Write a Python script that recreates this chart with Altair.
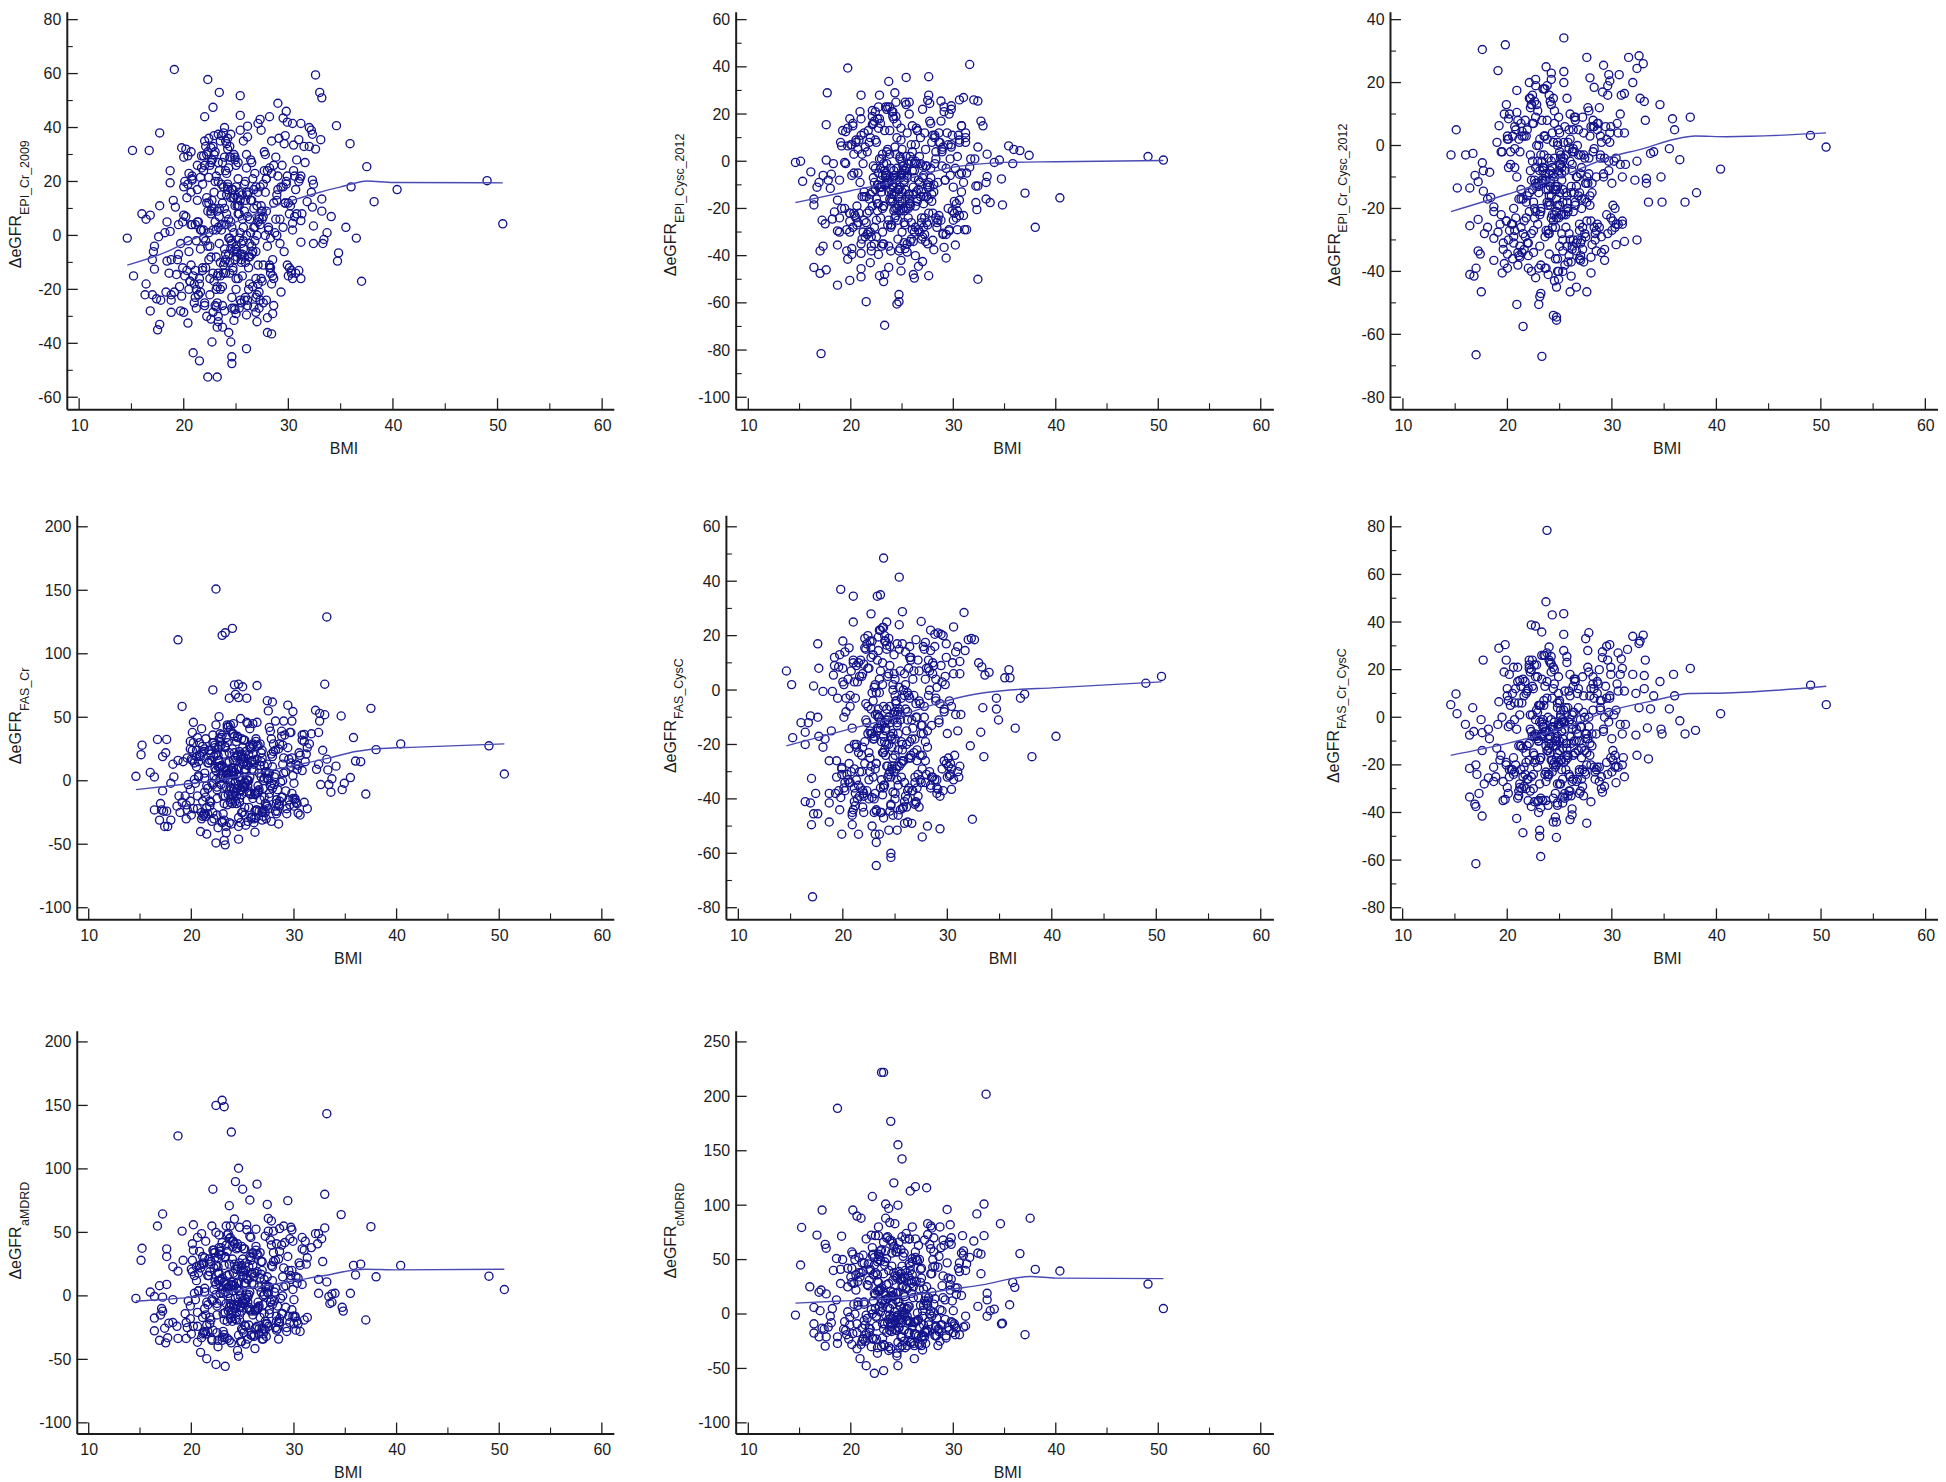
import altair as alt
import pandas as pd

CORE_BMI = [
22.4,23.1,24.5,25.2,26.3,27.1,24.0,21.6,23.7,25.8,28.2,29.3,20.5,22.9,24.8,26.7,23.4,25.5,27.6,21.2,
24.2,25.0,22.1,23.9,26.0,28.7,30.1,20.9,24.6,25.4,22.7,27.3,23.2,26.5,21.9,24.3,29.0,25.9,23.6,28.0,
20.3,22.5,24.9,26.9,23.0,27.8,25.1,21.4,24.4,29.6,22.2,25.7,23.8,26.2,30.6,24.1,21.0,27.4,23.3,25.3,
28.5,19.7,24.7,22.8,26.6,25.6,23.5,27.0,21.7,29.8,24.0,25.2,22.6,28.3,20.7,26.1,23.9,24.5,27.7,30.3,
21.3,25.0,23.4,26.4,22.3,24.8,28.9,25.5,19.9,23.7,27.2,24.2,31.0,22.0,26.8,25.8,23.1,20.1,28.6,24.6,
25.1,22.9,27.5,21.8,24.3,29.2,23.6,26.3,20.6,25.4,28.1,22.4,24.9,30.8,23.3,26.0,21.1,27.9,24.1,25.7,
22.7,19.5,24.4,26.7,23.8,28.4,25.3,21.5,27.1,29.5,23.0,24.7,20.2,25.9,22.2,26.5,30.0,23.5,28.8,24.0,
25.6,21.9,27.3,23.2,24.5,20.8,26.2,29.9,22.6,25.0,28.2,23.9,31.3,24.8,21.3,26.9,22.5,27.6,25.2,23.4,
23.6,24.3,25.1,24.7,26.0,22.8,25.5,24.1,23.2,26.4,27.2,24.9,25.8,22.4,23.9,26.7,25.3,24.5,27.6,23.4,
28.1,21.8,24.2,25.0,22.6,26.2,23.7,27.0,24.8,25.6,21.3,28.6,23.1,26.9,24.4,25.2,22.1,27.4,23.8,29.2,
24.6,25.9,20.7,26.5,23.3,28.3,25.4,22.9,24.0,27.8,21.6,26.1,23.5,25.7,29.7,24.3,22.3,27.1,25.1,23.0,
26.6,24.7,28.9,21.1,25.3,23.6,26.3,24.9,22.5,27.5,30.2,23.9,25.0,26.8,20.4,24.4,27.9,22.7,25.6,24.1,
20.2,21.4,22.6,28.4,29.6,30.5,21.0,27.8,23.1,26.4,20.8,22.0,29.1,30.0,24.4,27.2,21.7,25.8,28.8,23.5,
19.6,22.3,26.9,29.4,31.2,24.8,20.5,27.5,23.8,25.2,21.2,28.0,22.9,30.3,26.1,20.0,24.1,29.8,27.0,22.4,
19.9,25.5,28.6,21.5,23.3,26.6,30.8,24.6,20.7,27.7,22.1,29.3,25.0,21.8,28.2,23.6,26.3,31.0,20.3,24.9,
27.3,22.7,29.0,21.1,25.7,30.6,23.0,28.5,26.8,24.2,20.6,27.9,22.5,29.5,25.4,21.3,30.1,23.9,26.0,28.9,
19.4,24.5,27.1,21.9,29.9,22.8,25.9,30.4,23.2,26.5,20.1,28.3,24.0,21.6,27.4,25.3,29.7,22.2,26.2,23.7]

P1_CORE = [
12,-8,5,21,-3,16,-14,2,27,9,-11,18,-6,-17,14,3,24,-9,7,-2,
19,-5,-12,10,25,1,8,-15,17,-7,28,4,-19,13,-1,6,22,-10,15,-4,
-13,26,11,-16,20,0,-8,5,29,-6,12,-2,18,-12,7,23,-18,9,3,16,
-9,-3,14,-14,21,6,-20,11,2,19,-7,27,8,-1,-11,15,4,-5,24,-13,
17,-16,10,1,-4,30,13,-10,5,-19,7,18,20,26,-2,-8,22,-15,12,3,
-6,16,9,-12,25,-3,19,6,-17,13,2,-9,28,8,-14,0,4,21,15,-5,
10,-7,-1,17,-11,23,11,-18,5,3,31,-13,7,20,14,-4,12,-10,6,24,
-15,2,18,9,-2,4,16,22,-8,26,-12,29,8,1,13,-6,-16,19,11,-3,
4,-7,11,-12,16,2,-3,8,-15,13,6,-9,19,1,-5,10,-1,14,-11,7,
3,-13,17,-4,9,-8,12,0,-6,15,5,-16,2,18,-10,8,-2,11,-14,6,
-3,13,4,-7,20,-12,1,10,-9,16,-5,7,-15,3,12,-1,9,-11,14,5,
-6,17,0,-13,8,2,-8,15,-4,6,11,-10,18,3,-2,-14,9,13,-7,4,
32,-22,27,-18,34,24,-25,30,-20,28,21,-26,36,-15,33,-21,25,-24,29,35,
-19,31,-23,26,22,-27,23,-17,38,-16,-20,24,30,-14,-24,18,34,20,-22,36,
-12,-25,26,-16,27,-19,28,-23,16,31,33,-21,-20,19,25,37,-18,-13,14,29,
-24,28,17,-23,35,22,-26,-15,23,32,-17,21,-22,18,39,26,-12,-28,30,15,
-9,29,-18,24,-11,33,-23,13,-25,27,20,-14,35,-21,-16,-27,12,30,-20,-26]
P2_CORE = [
-12,3,-20,-6,7,-15,-27,4,-9,-18,10,-3,-24,-11,1,-30,-7,12,-16,-1,
-21,5,-13,-28,-4,8,-17,-9,-25,2,-10,-2,-19,13,-14,-6,-31,0,-8,-22,
-5,-16,9,-26,-11,-3,-20,6,-13,-29,-7,-18,3,-1,-23,-10,11,-15,-4,-27,
-9,14,-19,1,-12,-24,-6,-2,-30,7,-16,-8,-21,4,-26,-14,-3,10,-11,-18,
-25,-5,-10,-1,-28,-17,5,-7,-22,-13,12,-4,-9,-32,-15,2,-20,-6,8,-12,
-2,-24,-11,-16,6,-8,-27,0,-19,-3,-13,9,-21,-5,-10,-29,3,-17,-7,-14,
-18,-1,-23,-9,13,-26,-4,-15,-6,-20,1,-12,-28,7,-2,-16,-11,4,-25,-8,
-14,-30,5,-19,-3,-22,-7,11,-10,-17,-1,-27,-5,2,-13,-24,8,-9,-21,-6,
-9,-20,-2,-15,4,-11,-6,-17,-1,-13,-24,-7,-19,-3,-12,2,-16,-8,-22,-5,
-10,-21,-14,0,-18,-4,-25,-7,-11,-1,-15,-23,-6,-13,3,-9,-19,-2,-16,-8,
-12,-26,-5,-17,-10,1,-20,-3,-14,-7,-22,-11,-1,-16,-6,-24,-9,-18,-4,-13,
-8,-21,-2,-15,-12,5,-19,-6,-25,-10,-3,-17,-13,-1,-23,-7,-14,-5,-20,-11,
15,-32,18,-28,20,11,-35,16,-30,14,9,-36,21,-25,19,-31,13,-34,17,22,
-29,17,-33,12,10,-37,8,-27,23,-26,-30,11,16,-24,-34,7,19,6,-32,21,
-22,-35,12,-26,13,-29,15,-33,5,17,19,-31,-30,8,11,23,-28,-23,3,14,
-34,14,6,-33,20,9,-36,-25,10,18,-27,8,-32,7,24,12,-22,-38,15,4,
-20,16,-28,10,-21,18,-33,2,-35,13,7,-24,21,-31,-26,-37,1,16,-30,-36]
P3_CORE = [
-14,2,-22,-7,5,-17,-28,3,-11,-20,8,-4,-25,-12,0,-30,-8,6,-18,-2,
-23,4,-15,-27,-5,7,-19,-10,-26,1,-12,-3,-21,9,-16,-7,-29,-1,-9,-24,
-6,-18,5,-27,-13,-4,-22,3,-14,-28,-8,-20,2,-2,-25,-11,8,-17,-5,-30,
-10,10,-21,0,-13,-26,-7,-3,-29,4,-18,-9,-23,6,-27,-15,-4,7,-12,-20,
-26,-6,-11,-2,-28,-19,3,-8,-24,-14,9,-5,-10,-31,-16,1,-22,-7,5,-13,
-3,-25,-12,-18,4,-9,-29,-1,-20,-4,-15,7,-23,-6,-11,-30,2,-19,-8,-16,
-21,-2,-24,-10,8,-28,-5,-17,-7,-22,0,-14,-27,5,-3,-18,-12,3,-26,-9,
-15,-31,4,-20,-4,-23,-8,6,-11,-19,-2,-28,-6,1,-14,-25,7,-10,-22,-7,
-11,-22,-4,-17,2,-13,-8,-19,-3,-15,-26,-9,-21,-5,-14,0,-18,-10,-24,-7,
-12,-23,-16,-2,-20,-6,-27,-9,-13,-3,-17,-25,-8,-15,1,-11,-21,-4,-18,-10,
-14,-28,-7,-19,-12,-1,-22,-5,-16,-9,-24,-13,-3,-18,-8,-26,-11,-20,-6,-15,
-10,-23,-4,-17,-14,3,-21,-8,-27,-12,-5,-19,-15,-3,-25,-9,-16,-7,-22,-13,
10,-34,14,-30,16,7,-38,11,-32,9,5,-39,17,-27,15,-33,8,-37,12,18,
-31,13,-36,6,4,-40,3,-29,19,-28,-32,6,11,-26,-37,2,14,1,-35,16,
-24,-38,7,-28,8,-31,10,-36,-1,12,15,-33,-32,3,6,18,-30,-25,-2,9,
-37,9,1,-35,15,4,-39,-27,5,13,-29,3,-34,2,20,7,-24,-41,10,-3,
-22,11,-30,5,-23,13,-35,-4,-38,8,2,-26,16,-33,-28,-40,-5,12,-32,-39]
P4_CORE = [
8,-12,20,-5,31,2,-18,14,-8,26,5,-22,11,-3,17,-15,34,0,-10,23,
-6,13,-25,7,28,-1,-14,19,3,-9,33,-20,10,-4,24,-16,6,15,-11,29,
1,-7,21,-24,12,-2,32,-13,9,-19,4,27,-5,16,-27,-8,22,2,-12,18,
25,-3,-17,11,6,-21,30,-6,14,-10,8,-1,20,-26,3,13,-15,35,-4,9,
-9,17,5,-23,26,0,-13,12,-7,22,-18,7,31,-2,15,-11,4,24,-16,10,
-5,28,1,-20,18,-8,6,33,-12,13,-3,21,-25,8,2,-14,27,-6,16,-10,
11,-19,5,29,-1,-7,23,-4,12,-15,36,3,-22,9,19,-9,-2,14,-13,25,
0,-17,7,21,-6,30,-11,4,16,-3,-24,10,26,-8,2,18,-14,6,32,-5,
5,-9,14,-14,21,2,-4,10,-18,17,7,-11,25,1,-6,12,-2,19,-13,8,
3,-16,22,-5,11,-10,15,0,-7,20,6,-20,2,24,-12,9,-3,13,-17,7,
-4,16,4,-8,27,-15,1,12,-11,21,-6,8,-19,3,14,-1,10,-13,18,5,
-7,23,0,-16,9,2,-10,19,-5,6,13,-12,26,3,-2,-18,11,16,-8,4,
30,-28,25,-24,38,22,-30,33,-26,27,20,-32,36,-20,31,-25,24,-29,35,42,
-23,28,-31,26,21,-33,19,-22,40,-21,-27,23,34,-18,-30,17,37,18,-28,44,
-16,-32,29,-21,26,-24,32,-29,15,39,30,-26,-25,16,24,43,-23,-17,14,33,
-30,27,18,-28,41,20,-33,-19,22,35,-22,19,-27,17,46,25,-15,-34,29,13,
-12,34,-23,21,-14,31,-29,12,-31,28,16,-18,37,-26,-20,-35,11,30,-24,-33]
P5_CORE = [
-16,2,-30,-9,8,-22,-35,5,-13,-26,11,-5,-33,-18,0,-37,-10,7,-24,-3,
-28,4,-19,-36,-7,9,-25,-14,-32,1,-16,-4,-27,12,-21,-11,-38,-2,-12,-31,
-8,-23,6,-34,-17,-6,-29,3,-20,-37,-11,-26,2,-1,-33,-15,10,-24,-9,-35,
-13,13,-28,-1,-18,-32,-10,-5,-36,5,-22,-12,-30,7,-34,-20,-6,9,-16,-27,
-33,-8,-14,-3,-37,-25,4,-11,-31,-19,11,-7,-15,-38,-23,0,-29,-10,6,-17,
-4,-32,-16,-24,5,-12,-36,-2,-27,-7,-21,8,-30,-9,-15,-39,3,-26,-11,-20,
-28,-3,-31,-14,10,-35,-8,-23,-10,-29,1,-18,-34,6,-5,-25,-16,4,-33,-12,
-19,-37,7,-27,-6,-30,-11,12,-15,-24,-2,-35,-9,2,-20,-32,8,-13,-28,-10,
-14,-28,-4,-21,2,-16,-9,-24,-1,-19,-31,-11,-26,-6,-17,4,-22,-12,-29,-7,
-15,-30,-20,-2,-25,-8,-33,-10,-16,-3,-21,-32,-9,-18,6,-13,-27,-5,-23,-11,
-17,-34,-6,-24,-14,0,-28,-4,-19,-10,-30,-15,-1,-22,-8,-32,-12,-26,-5,-18,
-11,-29,-3,-20,-16,7,-25,-9,-33,-13,-4,-23,-18,-2,-31,-10,-19,-7,-27,-14,
14,-40,18,-36,20,10,-44,15,-38,12,7,-45,21,-32,19,-39,11,-43,16,22,
-37,17,-42,9,6,-46,4,-34,23,-33,-38,8,13,-31,-43,3,18,2,-41,20,
-29,-44,10,-35,11,-37,14,-42,-2,16,19,-39,-38,5,8,22,-36,-30,-3,13,
-43,12,1,-41,17,6,-45,-32,7,15,-34,4,-40,3,24,9,-28,-47,14,-4,
-26,16,-36,6,-27,18,-41,-6,-44,11,2,-30,20,-39,-33,-46,-7,15,-37,-45]
P6_CORE = [
-8,5,-19,-2,13,-13,-24,9,-6,-16,17,0,-22,-9,4,-26,-3,11,-15,1,
-18,7,-11,-25,-1,14,-14,-5,-21,3,-7,2,-17,16,-12,-4,-25,-2,-6,-20,
-3,-15,10,-23,-10,0,-18,6,-12,-24,-5,-16,8,1,-21,-8,15,-14,-2,-26,
-7,19,-17,3,-10,-22,-4,-1,-24,9,-13,-6,-19,12,-23,-11,0,14,-9,-16,
-22,-3,-8,2,-25,-15,7,-5,-20,-12,17,-1,-7,-26,-14,4,-18,-4,10,-10,
1,-21,-9,-15,8,-6,-24,2,-17,-2,-12,13,-19,-3,-8,-25,6,-16,-5,-11,
-18,0,-20,-7,15,-23,-1,-13,-4,-19,5,-10,-22,11,1,-15,-9,7,-21,-6,
-11,-26,9,-17,-2,-20,-5,18,-8,-14,3,-24,-3,6,-12,-22,12,-7,-18,-4,
-6,-18,3,-12,9,-8,-2,-15,5,-10,-22,-4,-17,1,-9,10,-13,-5,-20,-1,
-7,-19,-11,6,-16,-3,-23,-4,-8,4,-12,-21,-2,-10,12,-6,-18,0,-14,-5,
-9,-24,-1,-15,-7,8,-19,2,-11,-4,-21,-8,5,-13,-2,-23,-6,-17,0,-10,
-5,-20,3,-12,-9,13,-16,-3,-24,-7,1,-14,-10,4,-22,-4,-11,-1,-18,-8,
18,-30,22,-26,24,14,-34,19,-28,16,12,-35,25,-23,21,-29,15,-33,20,26,
-27,20,-32,13,11,-36,10,-24,27,-22,-28,12,17,-21,-33,9,23,8,-31,24,
-19,-34,15,-25,16,-27,18,-32,6,21,22,-29,-28,10,14,26,-26,-20,5,17,
-33,17,7,-31,23,11,-35,-22,12,19,-24,9,-30,8,28,13,-18,-37,18,4,
-16,20,-26,11,-17,22,-31,3,-34,15,7,-21,24,-29,-23,-36,2,19,-27,-35]
P7_CORE = [
9,-14,23,-6,36,1,-20,16,-9,30,6,-25,12,-4,19,-17,40,-1,-11,26,
-7,15,-27,8,33,-2,-16,22,4,-10,38,-22,11,-5,27,-18,7,17,-12,34,
2,-8,24,-26,14,-3,37,-15,10,-21,5,31,-6,18,-28,-9,25,3,-13,20,
29,-4,-19,12,7,-23,35,-7,16,-11,9,-2,23,-27,4,15,-17,41,-5,10,
-10,19,6,-24,30,0,-14,13,-8,25,-20,8,36,-3,17,-12,5,28,-18,11,
-6,32,2,-22,21,-9,7,39,-13,14,-4,24,-26,9,3,-15,31,-7,18,-11,
12,-21,6,34,-2,-8,26,-5,13,-16,42,4,-24,10,22,-10,-3,16,-14,29,
1,-19,8,24,-7,35,-12,5,18,-4,-25,11,30,-9,3,20,-15,7,37,-6,
6,-10,16,-15,24,2,-5,11,-19,19,7,-12,28,1,-7,14,-3,21,-14,9,
3,-17,25,-6,12,-11,17,0,-8,23,6,-21,2,27,-13,10,-4,15,-18,8,
-5,18,4,-9,30,-16,1,13,-12,24,-7,9,-20,3,16,-2,11,-14,20,5,
-8,26,0,-17,10,2,-11,22,-6,7,15,-13,29,3,-3,-19,12,18,-9,4,
36,-30,30,-26,45,26,-33,40,-28,33,24,-35,42,-22,37,-27,29,-31,40,48,
-25,34,-34,31,25,-36,23,-24,46,-23,-29,27,38,-20,-32,21,43,20,-30,50,
-18,-34,35,-23,31,-26,37,-31,18,44,36,-28,-27,19,28,49,-25,-19,16,39,
-32,33,22,-30,47,24,-35,-21,27,41,-24,23,-29,20,52,30,-17,-37,34,15,
-14,38,-26,25,-16,35,-31,14,-33,32,19,-20,43,-28,-22,-38,13,36,-26,-35]
P8_CORE = [
18,-9,35,0,52,8,-16,27,-5,44,14,-20,22,2,31,-12,58,5,-7,39,
-2,25,-22,16,48,4,-11,34,11,-6,55,-17,20,1,41,-14,15,28,-8,50,
9,-3,37,-21,24,3,53,-10,19,-15,12,46,-1,30,-19,-4,38,10,-9,33,
43,2,-13,21,15,-18,51,-2,26,-7,17,6,36,-20,11,25,-12,60,0,18,
-6,32,13,-19,45,7,-10,23,-3,40,-16,16,54,4,29,-8,12,42,-14,20,
-1,49,8,-17,35,-5,14,57,-9,24,1,38,-21,17,10,-11,47,-2,31,-7,
22,-15,13,50,5,-4,40,-1,23,-12,59,11,-18,19,36,-6,3,27,-10,44,
7,-14,16,37,-3,52,-8,12,30,2,-20,21,46,-5,9,33,-11,15,56,-1,
14,-6,26,-12,36,7,-2,20,-14,30,12,-8,40,5,-4,23,1,33,-10,17,
9,-13,38,-3,21,-7,28,3,-5,35,11,-16,6,42,-9,18,0,25,-15,13,
-1,31,8,-6,45,-11,4,22,-8,37,-4,15,-17,7,27,2,19,-10,34,10,
-5,39,3,-13,16,6,-7,32,-2,12,24,-9,44,8,0,-15,20,29,-6,9,
55,-25,48,-20,66,42,-28,60,-22,50,38,-30,63,-17,57,-21,46,-26,61,70,
-19,52,-29,47,40,-31,36,-16,68,-15,-23,43,58,-13,-27,34,65,32,-24,72,
-10,-29,53,-18,48,-20,56,-26,30,64,54,-22,-21,31,44,71,-19,-12,28,59,
-27,50,35,-25,69,39,-30,-14,41,62,-17,37,-23,33,74,47,-9,-32,51,26,
-7,57,-20,40,-8,53,-26,24,-28,49,29,-12,67,-22,-15,-31,22,55,-18,-30]

P1_OUTER = [(14.6,-1),(15.1,31.5),(15.2,-15),(16,8),(16.4,6),(16.4,-18),(16.3,-22),(16.7,31.5),(16.8,7.5),(16.8,-28),(17,-9),(17.1,-6),(17.2,-4),(17.2,-12.5),(17,-22),(17.4,-23.5),(17.5,-35),(17.6,-0.5),(17.7,11),(17.7,38),(17.7,-33),(17.8,-24),(18.2,1),(18.3,-21),(18.4,-9.5),(18.4,5),(18.6,-14),(18.7,24),(18.7,19.5),(18.7,1.5),(18.8,-24),(18.8,-22),(18.8,-9),(18.8,-28.5),(19,13),(19.1,61.5),(19.1,-21),(19.2,10.5),(19.3,-14.5),(19.5,4),(19.7,-28),(19.8,32.5),(19.8,-22.5),(20,7.5),(20,29),(20,-28.5),(20.4,29.5),(20.4,19),(20.4,-32.5),(20.5,-20),(20.7,31),(20.8,22),(20.8,20.5),(20.9,-43.5),(21.2,-27),(21.4,-22),(21.5,-46.5),(21.6,21.5),(21.7,29.5),(21.9,29.5),(22,44),(22,35),(22,-25),(22.2,-30),(22.3,57.8),(22.3,-52.5),(22.4,21.5),(22.6,-31),(22.6,32.5),(22.8,-28.5),(22.7,-39.5),(22.9,37),(23.2,-34),(23.1,-26.5),(23.2,-52.5),(23.3,37.5),(23.3,-30),(23.3,-32),(23.4,53),(22.8,47.5),(23.7,-34),(23.9,40),(24.2,36),(24.3,-36),(24.5,-39.5),(24.5,37.5),(24.6,-27),(24.6,-45),(24.6,-47.5),(24.8,-31.5),(24.9,-27.5),(25,-29),(25.4,-24),(25.4,51.8),(25.4,44.5),(26,-29.5),(26,-42),(26.1,40.5),(26.1,36.5),(26.1,-26),(26.7,-26.5),(26.9,-28.5),(27,-32),(27.2,-27),(27.1,41.5),(27.3,43),(27.4,39),(27.6,-25),(27.9,-24),(28,-30.5),(28,-36),(28.2,44),(28.4,-36.5),(28.4,35),(28.5,-29),(28.6,-26),(29,49),(29.5,43.5),(29.7,37),(29.8,46),(29.9,42),(30.4,41.5),(30.5,33.5),(31,35.5),(31.2,41.5),(31.5,33),(31.6,27),(32,33),(32,40),(32.2,39),(32.3,37.5),(32.6,59.5),(32.6,32),(33,53),(33.1,35.5),(33.2,51),(33.2,13.5),(33.2,9),(33.3,-3),(33.4,-1.5),(33.7,1),(34.1,7),(34.6,40.7),(34.7,-9.5),(34.8,-6.5),(35.5,3),(35.9,34),(36,18),(36.5,-1),(37,-17),(37.5,25.5),(38.2,12.5),(40.4,17),(49,20.3),(50.5,4.3),(32.2,16),(32.3,20.5),(32.4,19),(32.4,3.5),(32.3,10.5),(31.8,12.5),(32.4,-3),(31.2,-16),(30.4,-16),(30.7,-14),(31.2,-2.5),(31.1,21),(30.7,17),(30.4,2),(30.4,4.5),(31.2,5.5)]
P2_OUTER = [(14.6,-0.5),(15.1,0),(15.3,-8.5),(16.1,-4.5),(16.4,-16),(16.4,-18.5),(16.4,-45),(16.7,-11),(16.9,-9),(17,-38),(17,-47.5),(17.1,-81.5),(17.2,-25),(17.3,-36),(17.3,-6),(17.5,-26.5),(17.6,-46),(17.6,0.5),(17.6,15.5),(17.7,29),(17.8,-8),(18,-11.5),(18.1,-5.5),(18.2,-24.5),(18.3,-1),(18.4,-21.5),(18.7,-16.5),(18.7,-29.5),(18.7,-52.5),(18.7,-35.5),(18.9,-30),(18.9,-24),(18.9,-8),(19,8),(19.1,6.5),(19.1,-20),(19.2,13),(19.4,-0.5),(19.5,12.5),(19.6,-38),(19.7,-41.5),(19.7,6.5),(19.7,39.5),(19.9,-30),(19.9,-25.5),(19.9,-50.5),(19.9,18),(20.1,-37),(20.1,-39.5),(20.2,16),(20.3,-22),(20.5,9),(20.9,21),(21,28),(21,18),(21,-45.5),(21,-49),(21,-39),(21.5,-59.5),(21.9,-43),(22,-38),(22.1,15.5),(22.1,21.5),(22.3,-35),(22.7,23),(22.8,28),(22.8,-48.5),(22.7,-39.5),(23.1,-35),(23.2,-51),(23.3,-48),(23.3,-69.5),(23.4,23),(23.7,-45),(23.7,33.8),(24.1,21),(24.3,29),(24.4,25),(24.5,-60.5),(24.7,-56.5),(24.7,-59.5),(24.7,-38),(24.9,-46.5),(24.9,-42),(25.2,-34.5),(25.3,25),(25.4,35.5),(25.7,25),(25.5,-38.5),(26.1,-48),(26.2,-49.5),(26.3,-40),(26.6,-44.5),(27,-42.5),(27,22),(27.5,-35),(27.5,25.8),(27.6,35.8),(27.6,28),(27.7,24.5),(27.6,-48.5),(28,-33.5),(28.1,-37.5),(28.8,25.5),(29,-30.5),(29.1,-36.5),(29.1,23),(29.3,-41),(29.6,-29.5),(29.8,23.5),(29.8,22),(30.2,-35.5),(30.4,-29),(30.6,-5.5),(30.6,26),(31,27),(31.1,-29),(31.3,-29),(31.6,41),(32,26),(32.4,25.5),(32.2,-17.5),(32.2,-10.5),(32.4,-10.5),(32.3,-20.5),(32.4,-50),(32.7,17),(32.9,15),(33.2,-16),(33.2,-9),(33.3,3),(33.3,-6.5),(33.6,-17.5),(34,-0.5),(34.5,0.5),(34.7,-7.5),(34.8,-18.5),(35.4,6.5),(35.8,-1),(35.9,5),(36.5,4.5),(37,-13.5),(37.4,2.5),(38,-28),(40.4,-15.5),(49,2),(50.5,0.5),(30.4,-21),(30.8,-13),(30.6,-16.5),(30.6,8),(30.8,15),(31.2,12),(31.2,8),(31.6,-2.5),(31.7,1),(32.1,1),(32.4,6)]
P3_OUTER = [(14.6,-3),(15.1,5),(15.2,-13.5),(16,-3),(16.4,-13.5),(16.4,-25.5),(16.4,-41),(16.7,-2.5),(16.8,-41.5),(16.9,-9.5),(17,-39),(17,-66.5),(17.2,-23.5),(17.2,-33.5),(17.2,-11.5),(17.4,-34.5),(17.5,-46.5),(17.6,30.5),(17.6,-5.5),(17.7,-8),(17.7,-14.5),(17.8,-28),(18.1,-17),(18.1,-26),(18.3,-8.5),(18.4,-16.5),(18.7,-36.5),(18.7,-19.5),(18.7,-21),(18.7,-29.5),(19,1),(19.1,23.8),(19.1,-27.5),(19.2,6.3),(19.3,-25),(19.4,-2),(19.5,-40.5),(19.6,-33),(19.8,32),(19.7,-37.5),(19.9,13),(20,3),(20,-39),(20.1,-30),(20,-34.5),(20.1,8.5),(20.5,-36),(20.6,-31),(20.7,6),(20.9,-50.5),(20.9,17.5),(20.9,10.5),(21,-34),(21.2,-35.5),(21.5,-57.5),(21.4,4.5),(22.1,20),(22.2,15),(22,-35),(22.3,-40),(22.3,13),(22.7,-42),(22.7,21),(22.7,19),(23,-50.5),(23.1,-48),(23.2,-47),(23.3,-67),(23.4,18),(23.6,-39),(23.7,25),(24,-34.5),(24.2,23),(24.2,21),(24.4,-54),(24.5,-43),(24.7,-54.5),(24.7,-55.5),(24.7,-45),(24.8,-36),(24.9,-40),(24.9,-42.5),(25.4,34.2),(25.4,23.5),(25.3,-33.5),(25.7,-32),(26,-46.5),(26.1,-41.5),(26.2,-33),(26.6,-45),(26.6,-33.5),(27,-31),(27,-36.5),(27.6,28),(27.6,-46.5),(27.9,21.5),(28,-40.5),(28,-35.5),(28.1,-31.5),(28.3,18.5),(28.5,-33.5),(29,-34),(29.2,25.5),(29.3,-36.5),(29.7,22.5),(29.8,20.5),(29.6,19),(30.4,-31.5),(30.7,22.5),(30.9,16),(31.2,16.5),(31.2,-30.5),(31,-24),(30.4,-25),(31.6,28),(32,20),(32.4,24.5),(32.6,28.5),(33,26),(32.2,-11),(32.4,-5),(32.4,-30),(32.7,15),(33.1,14),(33.2,8),(33.3,-12),(33.3,-10.5),(33.5,-18),(33.7,-2.5),(34,-2),(34.6,13),(34.7,-10),(34.8,-18),(35.5,-1),(35.8,8.5),(36,5),(36.5,-4.5),(37,-18),(37.5,9),(38.1,-15),(40.4,-7.5),(49,3.2),(50.5,-0.5)]
P4_OUTER = [(14.6,3.5),(15.1,20.5),(15.2,28),(16,6.5),(16.4,3),(16.4,-23),(16.7,32.5),(16.9,-31),(17,-18),(17.1,-23),(17.2,19),(17.3,-24),(17.4,-36),(17.5,22),(17.6,32.5),(17.6,-24),(17.7,-36),(17.2,-8),(18,-2),(18,-31),(18.2,13),(18.3,3),(18.6,-20),(18.7,111),(18.7,16),(18.8,-12),(18.9,-25),(19.1,58.5),(19.1,-17),(19.2,15),(19.5,-30),(19.6,18),(19.9,25),(19.9,31),(20,-27),(20.1,38),(20.2,46),(20.5,24),(20.6,34),(20.9,-40),(21,41),(21,-25),(21.3,-26),(21.4,33),(21.5,-42),(22,16),(22.1,71.5),(22.1,36),(22.2,-30),(22.4,151),(22.4,-49),(22.7,50.5),(22.8,37),(22.6,-37),(23,-32),(23,114.5),(23.3,116.5),(23.2,-47),(23.3,-50.5),(23.4,-41),(23.4,-36),(23.5,44),(23.7,65),(23.8,44),(24,120),(24.1,45),(24.2,75.5),(24.3,68),(24.6,76),(24.6,65.5),(24.6,-46),(24.6,-36),(24.8,49),(25,74),(25.2,-27),(25.4,65),(25.5,45),(26,45),(26.1,-33),(26.2,-40.5),(26.4,75),(26.4,46),(26.3,-29),(26.9,-25),(27.4,63),(27.5,55),(27.6,42),(27.8,-32),(27.9,62),(28.2,47),(28.5,-34),(28.8,39),(28.9,28),(29,47),(29.4,59.5),(29.7,38),(29.9,54.5),(29.8,47),(30.2,-17),(30.4,-25.5),(30.8,36),(31,36.5),(31.3,-22),(31.7,37),(32.1,55.5),(32.4,38),(32.5,53),(32.5,47),(32.6,-3),(32.8,24),(33,76),(33,52),(33.2,129),(33.2,17),(33.3,8.5),(33.4,-3),(33.6,-9),(33.7,1.5),(34.1,11.5),(34.6,51),(34.7,-7),(34.9,-2),(35.5,2.5),(35.8,34),(36,15.5),(36.5,15),(37,-10.5),(37.5,57),(38,24.5),(40.4,29),(49,27.5),(50.5,5.3),(32.4,13),(32.2,9),(31.1,15),(31.5,29)]
P5_OUTER = [(14.6,7),(15.1,2),(15.2,-17.5),(16,-12),(16.4,-15.5),(16.4,-20),(16.4,-41),(16.7,-12),(16.9,-9.5),(16.9,-41.5),(17,-49.5),(17,-32.5),(17.1,-76),(17.2,-45.5),(17.2,1.5),(17.4,-38),(17.6,-45.5),(17.6,-10),(17.6,17),(17.7,8),(17.7,-17),(18.1,-21),(18.1,-0.5),(18.3,-18),(18.7,-41.5),(18.7,-26),(18.7,-38),(18.7,-48.5),(18.9,-15),(19,-0.5),(19.1,5.5),(19.2,12),(19.2,9),(19.4,-32),(19.3,-38),(19.6,8.5),(19.7,-44),(19.8,-39.5),(19.8,37),(19.9,-28.5),(19.9,-53),(20,18),(20,8),(20.1,-36),(20.2,-37),(20.6,-21.5),(20.6,15.5),(20.9,-46),(20.9,-49.5),(20.9,-45),(21,34.5),(21,25),(21,11),(21.1,-36),(21.1,-29),(21.2,-42.5),(21.5,-53),(21.5,10),(21.9,-43),(22,-39),(22,9.5),(22.1,15.5),(22.7,15.5),(22.7,28),(22.8,-39.5),(22.8,-50),(23,-40),(23.1,-53),(23.2,-44.5),(23.2,-64.5),(23.2,-56),(23.3,34.5),(23.4,19.5),(23.4,14.5),(23.5,-53),(23.6,35),(23.6,-45),(23.8,-38.5),(23.9,48.5),(23.9,23),(24,18),(24.2,16.5),(24.2,25),(24.4,-51.5),(24.5,-44.5),(24.6,-42.5),(24.6,-60),(24.6,-61.5),(24.8,-37.5),(25,-40),(25.2,-51.5),(25.2,17),(25.4,41.5),(25.4,15),(25.7,28.8),(25.7,-43.5),(25.9,-49),(26.2,-48.5),(26.2,-40),(26.6,-49),(26.4,16),(27,-41.5),(27,18.5),(27.5,25.2),(27.6,-54),(27.9,-34),(27.9,17.5),(28.1,-50),(28.4,22),(28.4,14.5),(28.8,20.5),(29,-33),(29,-36),(29.1,-36.5),(29.3,-51),(29.4,20.5),(29.7,-26),(29.9,17),(30.2,-31.5),(30.4,-29),(30.4,-36.5),(30.6,23.2),(30.7,-24),(31,16),(31.1,-32),(31.2,10.5),(31.2,-28),(31.6,28.5),(31.7,14.5),(32,18.5),(32.2,-20.5),(32.3,19),(32.4,-47.5),(32.6,18.5),(33,10),(33.2,-15.5),(33.3,8.5),(33.4,-6.5),(33.5,-24.5),(33.6,5.5),(34,6.5),(34.7,-7),(34.7,-3),(34.9,-11),(35.5,4.5),(35.9,7.5),(36,4.5),(36.5,-14),(37,-3),(37.4,-1.5),(38.1,-24.5),(40.4,-17),(49,2.5),(50.5,5)]
P6_OUTER = [(14.6,5.3),(15.1,9.8),(15.2,1.5),(16,-3),(16.4,-7.5),(16.4,-21.5),(16.4,-33.5),(16.9,-36.5),(17,-61.5),(17,-20),(17,-37.5),(16.7,4),(16.8,-6),(17.1,-24),(17.3,-32),(17.5,-1),(17.6,-41.5),(17.6,-14),(17.6,-6.5),(17.7,24),(17.8,-28),(18.2,-25.5),(18.2,-5),(18.3,-9),(18.7,-21),(18.7,-27),(18.9,-25),(19,-13),(19.1,-3),(19.2,29),(19.2,6.5),(19.3,-18),(19.6,-35),(19.8,30.5),(19.8,-34.5),(19.9,24),(20,12),(20,-29.5),(20.1,-32),(20.2,-25),(20.6,21),(20.9,-42.5),(21,21),(21.2,15.5),(21.1,-33),(21.2,-29.5),(21.5,16),(21.5,-48.5),(21.8,-30),(22,12),(22.1,24),(22.1,20.5),(22.2,-31),(22.3,38.8),(22.3,-37.5),(22.6,-35.5),(22.7,38.3),(22.9,-35.5),(23,-40),(23.1,-47.5),(23.1,-50),(23.2,-58.5),(23.3,35.8),(23.3,26),(23.4,-35),(23.2,-38),(23.8,78.5),(23.7,48.5),(23.7,-27),(24,29.5),(24.2,22.5),(24.2,25.5),(24.3,43),(24.4,-34),(24.4,-44),(24.6,-42),(24.7,-44),(24.7,-50.5),(24.8,-37),(24.8,-28),(25.1,-28),(25.3,-33.5),(25.5,-32),(25.4,34.8),(25.4,43.5),(25.7,25.5),(26,-31),(26,-43),(26.2,-38.5),(26.2,-41),(27.5,33),(27.6,-44.5),(27.7,28),(27.8,35.5),(28,-35.5),(28.8,-27),(29,-30),(29.1,27.5),(29.1,-31.5),(29.5,29.8),(29.8,30.5),(29.9,21),(30.4,-20.5),(30.4,-27.5),(30.6,27),(30.9,24.5),(31,20.5),(31.1,-17),(31.2,-25),(31.5,28.5),(32,18),(32,34),(32.3,10),(32.3,-7.5),(32.4,-16),(32.6,31),(32.6,4),(32.7,32),(33,34.5),(33.1,17.5),(33.1,12),(33.2,24),(33.4,-4.5),(33.5,-17.5),(33.7,3.5),(34,9),(34.6,15),(34.7,-5),(34.8,-7),(35.5,3.5),(35.9,18),(36,9),(36.5,-1.5),(37,-7),(37.5,20.5),(38,-5.5),(40.4,1.5),(49,13.5),(50.5,5.3)]
P7_OUTER = [(14.6,-2),(15.1,28),(15.2,37.5),(16,3),(16.4,-0.5),(16.4,-17.5),(16.4,-27.5),(16.7,55),(16.9,8),(16.9,-35),(17,-15),(17.1,-10),(17.2,-12),(17.2,-1),(17.2,64.5),(17.4,-25.5),(17.5,-37),(17.6,31),(17.6,37),(17.6,9),(17.7,-33),(17.8,-21.5),(18.2,-21),(18.2,-3),(18.2,23),(18.6,-24),(18.7,126),(18.7,-33.5),(18.7,19.5),(19.1,51),(19.2,28),(19.5,-33.5),(20.1,41),(20.2,56),(20,-30),(20.6,46),(20.6,-36.5),(20.9,-44.5),(21,49),(21.2,25),(21.3,-28),(21.4,43),(21.5,-49.5),(22,55),(22,-34),(22.1,84),(22.2,34),(22.4,150),(22.4,-54),(22.6,-40),(22.6,-35),(22.7,48),(23,154),(23,-32.5),(23.2,149),(23.2,-30.5),(23.3,-55.5),(23.4,55),(23.5,-33.5),(23.7,71),(23.7,45),(23.8,55),(23.9,129),(24,38.5),(24.2,60.5),(24.3,90),(24.5,-43),(24.6,-47.5),(24.6,100.5),(24.7,54),(24.9,-36),(25,84),(25.1,-29),(25.3,-24),(25.4,56),(25.7,75.5),(25.8,46),(26.1,-31),(26.2,-41.5),(26.3,52.5),(26.4,88),(26.6,-30),(27,-34),(27.2,47),(27.4,72),(27.5,61),(27.5,51),(27.8,59),(28,51),(28.3,41),(28.5,-34),(28.6,53),(29,55),(29.4,75),(29.7,54),(29.8,52),(29.9,43),(30.2,-27),(30.4,-22),(30.8,46),(31.1,43),(31.3,-17),(31.7,38),(32.1,49),(32.4,49),(32.3,41),(32.7,45),(32.8,27),(33,80),(33,53.5),(33.2,143.5),(33.2,11),(33.4,-0.5),(33.5,-6),(33.7,-5),(33.7,1.5),(34,2),(34.6,64),(34.7,-9),(34.8,-12),(35.5,2),(35.8,24),(36,16.5),(36.5,25),(37,-19),(37.5,54.5),(38,15),(40.4,24),(49,15.5),(50.5,5),(32.4,13),(32.4,2)]
P8_OUTER = [(14.6,-1),(15.1,45),(15.2,79.5),(16,25),(16.4,6),(16.4,-9),(16.4,-17.5),(16.7,72.5),(16.9,20),(16.9,-21),(17,3),(17.1,22),(17.2,95.5),(17.2,-13),(17.4,-14),(17.5,64),(17.5,-29.5),(17.6,60.5),(17.6,-21),(17.6,18.5),(17.8,-12),(18,-2),(18.1,-8),(18.2,5),(18.3,40),(18.6,51),(18.6,13),(18.7,189),(18.7,-21),(18.7,-27),(19,28),(19,41),(19.1,71.5),(19.2,50),(19.3,-14),(19.7,25),(19.7,42),(19.8,-23),(20.1,57),(20.1,-28),(20.2,95.5),(20.4,50),(20.6,-32),(20.6,90),(21,88),(20.9,-41),(21.2,54),(21.2,-23),(21.5,-47.5),(21.5,69),(22,72.5),(22.1,108),(22.1,61),(22.2,-23),(22.3,-54.5),(22.6,-36),(22.6,-31),(22.7,80),(22.7,72),(23,222),(23.2,222),(23.2,66),(23.2,-52),(23.4,101),(23.3,-29),(23.4,88),(23.7,-33.5),(23.7,97),(23.8,84),(23.9,177),(24,56),(24.2,120.5),(24.3,83),(24.5,-38.5),(24.5,-36),(24.6,155.5),(24.6,100),(24.6,-47.5),(24.7,66),(25,142.5),(25,-29),(25,71),(25.2,-25),(25.3,69),(25.7,-17),(25.7,69),(25.8,113),(26,80),(26.2,-41),(26.2,-29),(26.3,69),(26.3,117),(26.6,63),(26.7,-28),(27,-33),(27.2,68),(27.4,116),(27.5,83),(27.5,73),(27.8,81),(27.9,79),(28.1,70),(28.1,57),(28.5,-29),(28.7,-25),(28.7,80),(29,68),(29.4,96),(29.7,82),(29.8,70),(29.8,64),(30.2,-19),(30.6,47),(30.9,72),(31,58),(31.2,-11),(31.2,-2),(32,67),(31.6,52),(32.3,92),(32.4,56),(32.4,7),(32.7,55),(32.7,37),(33,101),(33,72),(33.2,202),(33.3,19),(33.3,13),(33.3,-2),(33.6,3),(34,4.5),(34.6,83),(34.7,-9),(34.8,-8.5),(35.5,8.5),(35.8,29),(36,24.5),(36.5,55.5),(37,-19),(37.5,88),(38,41),(40.4,39.5),(49,27.5),(50.5,5)]

P1_TREND = [(14.6,-11),(18.4,-6),(20,-3),(25,5),(30,12.5),(33,16),(35,18),(36,19),(37.5,20.2),(40,19.6),(50.5,19.5)]
P2_TREND = [(14.6,-17.5),(20,-12.5),(25,-8),(30,-2.5),(33,-1),(35,-0.5),(40,-0.2),(50.5,0.3)]
P3_TREND = [(14.6,-21),(20,-15.5),(25,-10),(30,-3.5),(33,-1),(36,2),(38,3),(41,2.8),(50.5,4)]
P4_TREND = [(14.6,-7),(18,-4),(22,0),(25,4),(30,12),(33.5,18),(36,23),(38,25),(42,26.5),(50.5,29)]
P5_TREND = [(14.6,-20.5),(20,-15),(25,-10),(29,-5),(32,-2),(36,0),(40,0.8),(50.5,3)]
P6_TREND = [(14.6,-16),(20,-11),(25,-5),(30,3),(34,7),(37.5,10),(41,10.2),(50.5,13)]
P7_TREND = [(14.6,-4),(17,-3),(20,-1),(25,5),(30,12),(33,16),(36,20.5),(37,21),(40,20.5),(50.5,21)]
P8_TREND = [(14.6,10),(19,12),(22,13),(25,16),(30,23),(33,27),(36,33),(37.5,34.5),(40,33),(50.5,32.5)]

X_MAJOR = [10, 20, 30, 40, 50, 60]
X_MINOR = [15, 25, 35, 45, 55]
P1_TICKS = [80, 60, 40, 20, 0, -20, -40, -60]
P2_TICKS = [60, 40, 20, 0, -20, -40, -60, -80, -100]
P3_TICKS = [40, 20, 0, -20, -40, -60, -80]
P4_TICKS = [200, 150, 100, 50, 0, -50, -100]
P5_TICKS = [60, 40, 20, 0, -20, -40, -60, -80]
P6_TICKS = [80, 60, 40, 20, 0, -20, -40, -60, -80]
P7_TICKS = [200, 150, 100, 50, 0, -50, -100]
P8_TICKS = [250, 200, 150, 100, 50, 0, -50, -100]

INK = "#1c1c1c"
POINT = "#14148c"
LINE = "#4a4ab4"
FONT = "Liberation Sans"

# frame of each column and row on the page (x0, width), (y0, height)
COLS = [(66, 549), (727, 550), (1389, 555)]
ROWS = [(8, 399), (513, 406), (1025, 410)]

PANELS = [
    dict(sub="EPI_Cr_2009", ticks=P1_TICKS, outer=P1_OUTER, core=P1_CORE, trend=P1_TREND, c=0, r=0, ax=66, x10=78.4, x60=603.3, top=8, hi=16, lo=395, bot=407, minor=True, dy=265, dx=20, sy=212, sx=28, bx=343.7),
    dict(sub="EPI_Cysc_2012", ticks=P2_TICKS, outer=P2_OUTER, core=P2_CORE, trend=P2_TREND, c=1, r=0, ax=737.3, x10=750, x60=1264.3, top=8, hi=16, lo=395, bot=407, minor=True, dy=273, dx=676.5, sy=220, sx=685, bx=1009.6),
    dict(sub="EPI_Cr_Cysc_2012", ticks=P3_TICKS, outer=P3_OUTER, core=P3_CORE, trend=P3_TREND, c=2, r=0, ax=1394, x10=1407, x60=1931.3, top=8, hi=16, lo=395, bot=407, minor=True, dy=283, dx=1343.5, sy=230, sx=1351, bx=1671.7),
    dict(sub="FAS_Cr", ticks=P4_TICKS, outer=P4_OUTER, core=P4_CORE, trend=P4_TREND, c=0, r=1, ax=76, x10=88, x60=603, top=513.3, hi=525, lo=907.3, bot=919, minor=False, dy=762.7, dx=20, sy=710, sx=28, bx=348),
    dict(sub="FAS_CysC", ticks=P5_TICKS, outer=P5_OUTER, core=P5_CORE, trend=P5_TREND, c=1, r=1, ax=727.5, x10=740, x60=1264.3, top=513.3, hi=525, lo=907.3, bot=919, minor=True, dy=771.7, dx=676.5, sy=718, sx=684.7, bx=1005),
    dict(sub="FAS_Cr_CysC", ticks=P6_TICKS, outer=P6_OUTER, core=P6_CORE, trend=P6_TREND, c=2, r=1, ax=1394.4, x10=1406.7, x60=1931.6, top=513.3, hi=525, lo=907.3, bot=919, minor=True, dy=781.7, dx=1342.4, sy=728, sx=1349.4, bx=1672),
    dict(sub="aMDRD", ticks=P7_TICKS, outer=P7_OUTER, core=P7_CORE, trend=P7_TREND, c=0, r=2, ax=76, x10=88, x60=603, top=1030.7, hi=1042, lo=1424.3, bot=1435, minor=False, dy=1280, dx=20, sy=1226.7, sx=28, bx=348),
    dict(sub="cMDRD", ticks=P8_TICKS, outer=P8_OUTER, core=P8_CORE, trend=P8_TREND, c=1, r=2, ax=737.3, x10=750, x60=1264.3, top=1030.7, hi=1042, lo=1424.3, bot=1435, minor=False, dy=1279, dx=676.5, sy=1227, sx=685, bx=1010),
]


def panel(p):
    x0, W = COLS[p["c"]]
    y0, H = ROWS[p["r"]]
    right = x0 + W
    xinset = p["ax"] - x0
    yinset = p["top"] - y0
    xu = (p["x60"] - p["x10"]) / 50
    xdom = [10 - (p["x10"] - p["ax"]) / xu, 60 + (right - p["x60"]) / xu]
    yhi, ylo = max(p["ticks"]), min(p["ticks"])
    yu = (p["lo"] - p["hi"]) / (yhi - ylo)
    ydom = [ylo - (p["bot"] - p["lo"]) / yu, yhi + (p["hi"] - p["top"]) / yu]
    bot = p["bot"] - y0
    xscale = alt.Scale(domain=xdom, range=[xinset, W], nice=False, zero=False)
    yscale = alt.Scale(domain=ydom, range=[bot, yinset], nice=False, zero=False)

    xs = [q[0] for q in p["outer"]] + CORE_BMI
    ys = [q[1] for q in p["outer"]] + p["core"]
    pts = pd.DataFrame({"BMI": xs, "d": ys})
    tr = pd.DataFrame({"BMI": [q[0] for q in p["trend"]], "d": [q[1] for q in p["trend"]]})

    x_axis = alt.Axis(values=X_MAJOR, ticks=False, grid=False, domainColor=INK, domainWidth=2,
                      labelFont=FONT, labelFontSize=16, labelColor=INK, labelPadding=8,
                      labelExpr="'' + datum.value", labelOverlap=False, labelFlush=False,
                      title="BMI", titleFont=FONT, titleFontSize=16, titleFontWeight="normal",
                      titleColor=INK, titleX=p["bx"] - x0, titleY=39, titleAlign="center",
                      titleBaseline="middle")
    y_axis = alt.Axis(values=p["ticks"], ticks=False, grid=False, domainColor=INK, domainWidth=2,
                      offset=-xinset, labelFont=FONT, labelFontSize=16, labelColor=INK, labelPadding=6,
                      labelExpr="'' + datum.value", labelOverlap=False, labelFlush=False,
                      title="\u0394eGFR", titleFont=FONT, titleFontSize=16, titleFontWeight="normal",
                      titleColor=INK, titleAngle=270, titleAlign="left", titleBaseline="alphabetic",
                      titleX=p["dx"] - p["ax"], titleY=p["dy"] - y0)

    ex = alt.X("BMI:Q", scale=xscale, axis=x_axis)
    ey = alt.Y("d:Q", scale=yscale, axis=y_axis)
    layers = [
        alt.Chart(pts).mark_point(shape="circle", filled=False, stroke=POINT, strokeWidth=1.35,
                                  size=66, opacity=1).encode(x=ex, y=ey),
        alt.Chart(tr).mark_line(color=LINE, strokeWidth=1.4, interpolate="monotone").encode(x=ex, y=ey),
        alt.Chart(pd.DataFrame({"BMI": X_MAJOR})).mark_rule(color=INK, strokeWidth=1.3).encode(
            x=ex, y=alt.value(bot), y2=alt.value(bot - 11)),
        alt.Chart(pd.DataFrame({"BMI": X_MINOR})).mark_rule(color=INK, strokeWidth=1.1).encode(
            x=ex, y=alt.value(bot), y2=alt.value(bot - 6)),
        alt.Chart(pd.DataFrame({"d": p["ticks"]})).mark_rule(color=INK, strokeWidth=1.3).encode(
            y=ey, x=alt.value(xinset), x2=alt.value(xinset + 11)),
    ]
    if p["minor"]:
        mids = [(a + b) / 2 for a, b in zip(p["ticks"][:-1], p["ticks"][1:])]
        layers.append(
            alt.Chart(pd.DataFrame({"d": mids})).mark_rule(color=INK, strokeWidth=1.1).encode(
                y=ey, x=alt.value(xinset), x2=alt.value(xinset + 6)))
    layers.append(
        alt.Chart(pd.DataFrame({"s": [p["sub"]]})).mark_text(
            font=FONT, fontSize=12.5, color=INK, angle=270, align="left", baseline="alphabetic").encode(
            text="s:N", x=alt.value(p["sx"] - x0), y=alt.value(p["sy"] - y0)))
    return alt.layer(*layers).properties(width=W, height=H)


chart = alt.concat(*[panel(p) for p in PANELS], columns=3,
                   spacing={"row": ROWS[1][0] - ROWS[0][0] - ROWS[0][1], "column": COLS[1][0] - COLS[0][0] - COLS[0][1]},
                   bounds="flush", align="none"
                   ).properties(padding=0, background="white").configure_view(stroke=None)

chart.save("out.html", embed_options={"renderer": "svg", "actions": False})
